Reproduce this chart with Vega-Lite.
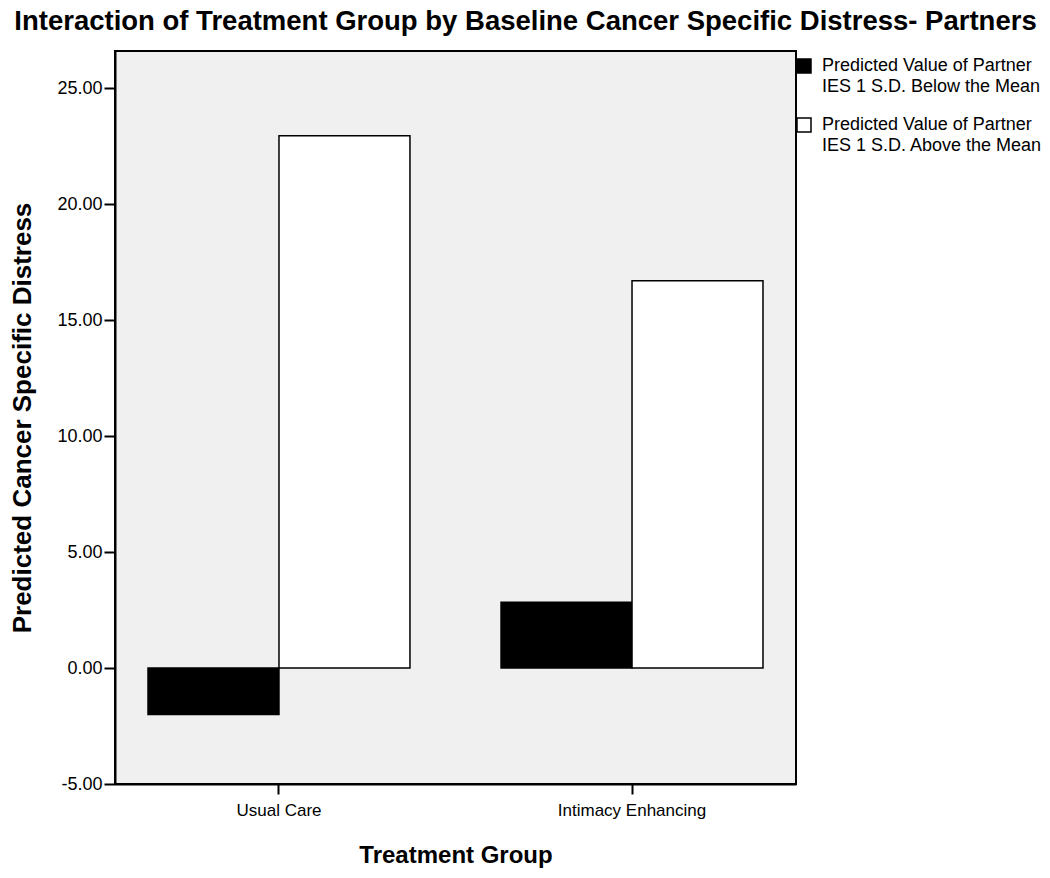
{
  "$schema": "https://vega.github.io/schema/vega-lite/v6.json",
  "autosize": {"type": "none"},
  "width": 681,
  "height": 733,
  "padding": {"left": 115, "top": 51, "right": 254, "bottom": 94},
  "background": "white",
  "title": {
    "text": "Interaction of Treatment Group by Baseline Cancer Specific Distress- Partners",
    "font": "Liberation Sans",
    "fontSize": 27.5,
    "fontWeight": "bold",
    "color": "black",
    "anchor": "middle",
    "baseline": "bottom",
    "dx": 70,
    "dy": 28,
    "offset": 16
  },
  "data": {
    "values": [
      {"group": "Usual Care", "series": "Predicted Value of Partner IES 1 S.D. Below the Mean", "value": -2.0},
      {"group": "Usual Care", "series": "Predicted Value of Partner IES 1 S.D. Above the Mean", "value": 22.95},
      {"group": "Intimacy Enhancing", "series": "Predicted Value of Partner IES 1 S.D. Below the Mean", "value": 2.83},
      {"group": "Intimacy Enhancing", "series": "Predicted Value of Partner IES 1 S.D. Above the Mean", "value": 16.7}
    ]
  },
  "mark": {"type": "bar", "stroke": "black", "strokeWidth": 1.5},
  "encoding": {
    "x": {
      "field": "group",
      "type": "nominal",
      "sort": ["Usual Care", "Intimacy Enhancing"],
      "scale": {"paddingInner": 0.258, "paddingOuter": 0.0935},
      "axis": {
        "title": "Treatment Group",
        "labelAngle": 0,
        "labelFont": "Liberation Sans",
        "labelFontSize": 17,
        "labelColor": "black",
        "labelPadding": 8,
        "tickSize": 10,
        "tickWidth": 2,
        "tickColor": "black",
        "domainColor": "black",
        "domainWidth": 2,
        "titleFont": "Liberation Sans",
        "titleFontSize": 24,
        "titleFontWeight": "bold",
        "titleColor": "black",
        "titlePadding": 25
      }
    },
    "xOffset": {
      "field": "series",
      "type": "nominal",
      "sort": ["Predicted Value of Partner IES 1 S.D. Below the Mean", "Predicted Value of Partner IES 1 S.D. Above the Mean"],
      "scale": {"paddingInner": 0, "paddingOuter": 0}
    },
    "y": {
      "field": "value",
      "type": "quantitative",
      "scale": {"domain": [-5, 26.6], "nice": false, "zero": false},
      "axis": {
        "title": "Predicted Cancer Specific Distress",
        "values": [-5, 0, 5, 10, 15, 20, 25],
        "format": ".2f",
        "labelExpr": "replace(datum.label, '−', '-')",
        "grid": false,
        "labelFont": "Liberation Sans",
        "labelFontSize": 18,
        "labelColor": "black",
        "labelPadding": 2,
        "tickSize": 11,
        "tickWidth": 2,
        "tickColor": "black",
        "domainColor": "black",
        "domainWidth": 2,
        "titleFont": "Liberation Sans",
        "titleFontSize": 26,
        "titleFontWeight": "bold",
        "titleColor": "black",
        "titlePadding": 21
      }
    },
    "fill": {
      "field": "series",
      "type": "nominal",
      "sort": ["Predicted Value of Partner IES 1 S.D. Below the Mean", "Predicted Value of Partner IES 1 S.D. Above the Mean"],
      "scale": {"range": ["black", "white"]},
      "legend": {
        "title": null,
        "orient": "none",
        "legendX": 680,
        "legendY": 6,
        "padding": 0,
        "symbolType": "square",
        "symbolSize": 196,
        "symbolStrokeColor": "black",
        "symbolStrokeWidth": 1.5,
        "labelFont": "Liberation Sans",
        "labelFontSize": 18,
        "labelColor": "black",
        "labelOffset": 9,
        "labelLimit": 300,
        "rowPadding": 19,
        "labelExpr": "['Predicted Value of Partner', substring(datum.label, 27)]",
        "encode": {"labels": {"update": {"lineHeight": {"value": 21}}}}
      }
    }
  },
  "config": {
    "view": {"stroke": "black", "strokeWidth": 2, "fill": "#f0f0f0"}
  }
}
